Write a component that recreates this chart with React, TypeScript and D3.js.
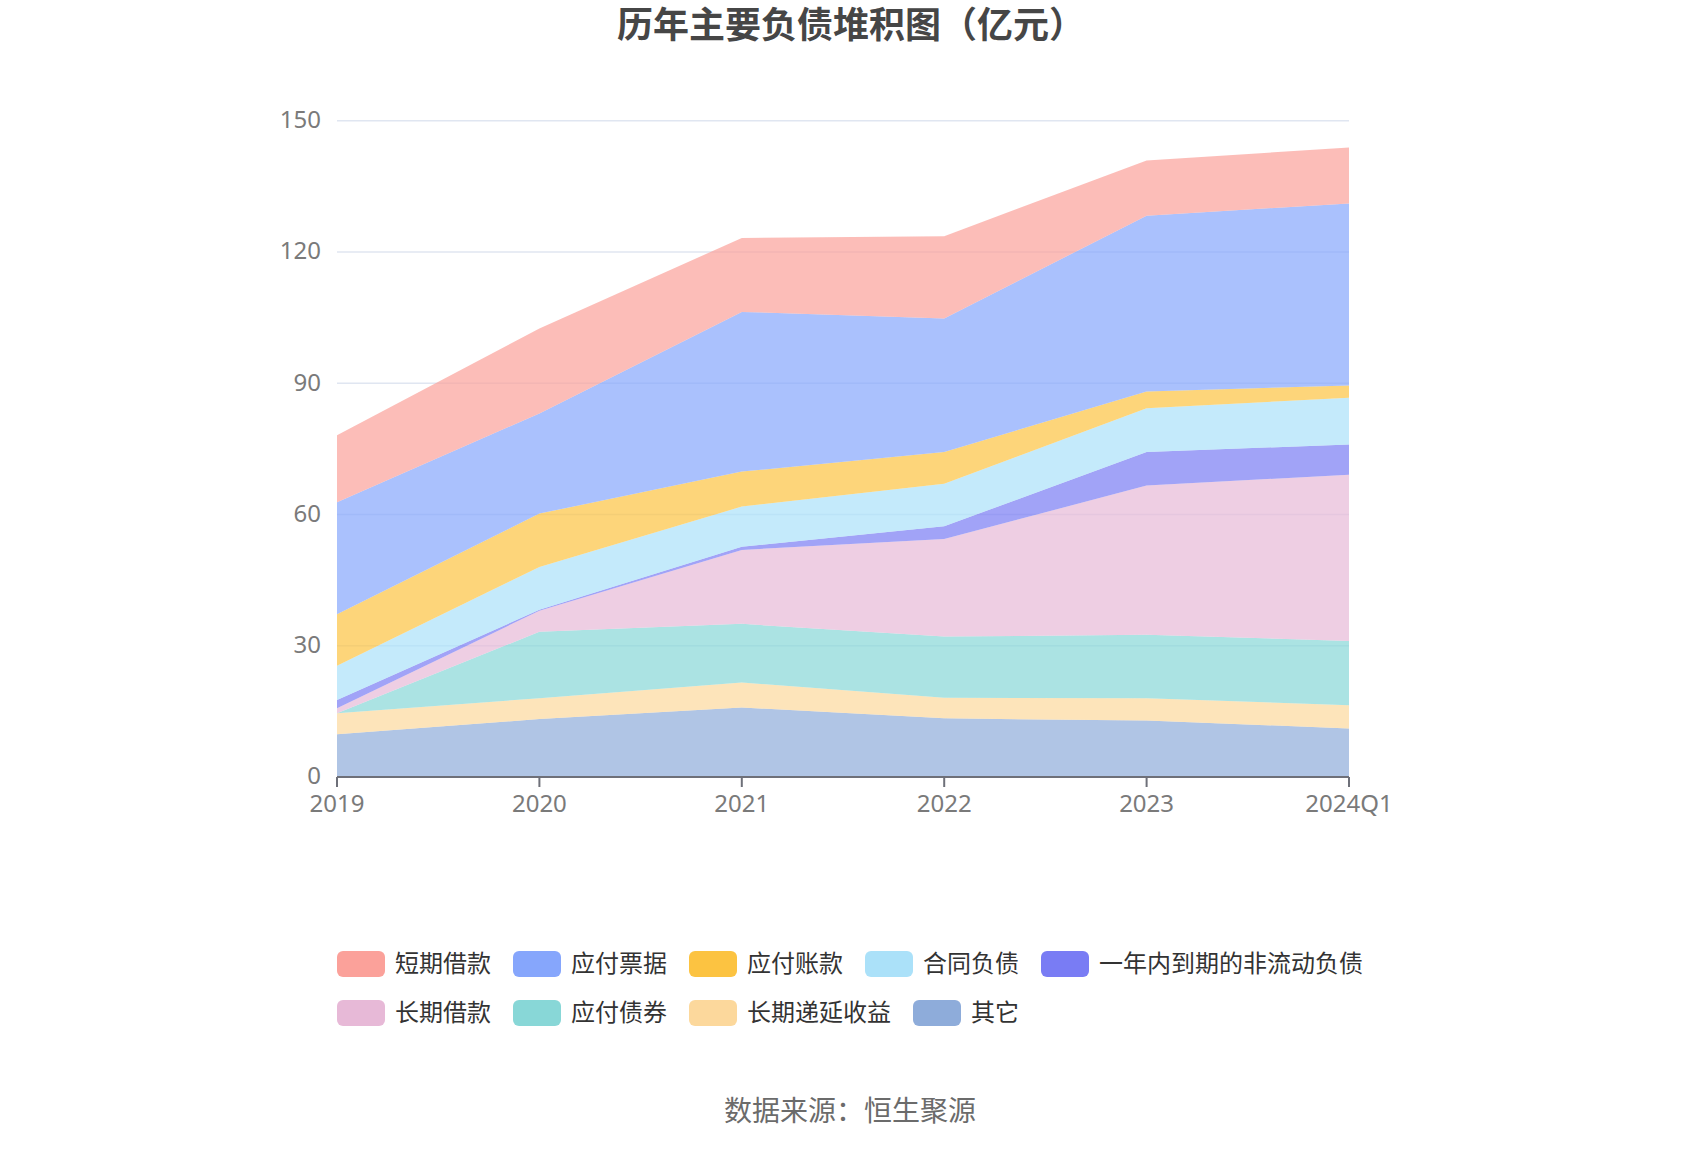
import React from "react";
import * as d3 from "d3";

const categories = ["2019", "2020", "2021", "2022", "2023", "2024Q1"];
const seriesNames = [
  "短期借款",
  "应付票据",
  "应付账款",
  "合同负债",
  "一年内到期的非流动负债",
  "长期借款",
  "应付债券",
  "长期递延收益",
  "其它",
];
const seriesColors = [
  "#FBA19A",
  "#86A6FC",
  "#FCC341",
  "#ABE1F9",
  "#797CF4",
  "#E7B9D7",
  "#88D7D7",
  "#FCD89C",
  "#8EACDA",
];
// values in 亿元, one array per series (legend order)
const shortLoans = [15.3, 19.4, 16.9, 18.8, 12.6, 12.8];
const notesPayable = [25.6, 22.9, 36.5, 30.5, 40.2, 41.6];
const accountsPayable = [11.8, 12.2, 8.0, 7.3, 3.8, 2.8];
const contractLiab = [7.8, 9.8, 9.2, 9.7, 10.0, 10.7];
const currentNonCurrent = [1.9, 0.2, 0.7, 2.9, 7.7, 6.9];
const longLoans = [1.15, 4.8, 16.9, 22.3, 34.1, 38.0];
const bondsPayable = [0.0, 15.2, 13.4, 14.0, 14.5, 14.7];
const deferredIncome = [4.8, 4.75, 5.7, 4.7, 5.1, 5.3];
const others = [9.75, 13.25, 15.9, 13.4, 12.9, 11.1];
const seriesValues = [
  shortLoans,
  notesPayable,
  accountsPayable,
  contractLiab,
  currentNonCurrent,
  longLoans,
  bondsPayable,
  deferredIncome,
  others,
];
const yTicks = [0, 30, 60, 90, 120, 150];

const W = 1700;
const H = 1150;
const FONT = "'Noto Sans', 'Noto Sans CJK SC', sans-serif";

export default function App() {
  const x = d3.scalePoint<string>().domain(categories).range([337, 1349]);
  const y = d3.scaleLinear().domain([0, 150]).range([777, 120.7]);

  const rows = categories.map((c, i) => {
    const r: any = { cat: c };
    seriesNames.forEach((n, k) => (r[n] = seriesValues[k][i]));
    return r;
  });
  // stack bottom-up: reverse of legend order
  const stackKeys = [...seriesNames].reverse();
  const stacked = d3.stack<any>().keys(stackKeys)(rows);
  const area = d3
    .area<any>()
    .x((d) => x(d.data.cat) as number)
    .y0((d) => y(d[0]))
    .y1((d) => y(d[1]));

  // legend layout
  const legendRows = [seriesNames.slice(0, 5), seriesNames.slice(5)];
  const legendY = [964, 1013];
  const fs = 24;
  const axisText = "#7a7a7a";

  return (
    <svg
      width={W}
      height={H}
      style={{ position: "absolute", left: 0, top: 0, background: "#fff" }}
      fontFamily={FONT}
    >
      <rect x={0} y={0} width={W} height={H} fill="#fff" />
      <text
        x={851}
        y={38}
        textAnchor="middle"
        fontSize={36}
        fontWeight="bold"
        fill="#464646"
      >
        历年主要负债堆积图（亿元）
      </text>

      {yTicks.map((t) =>
        t === 0 ? null : (
          <line
            key={"g" + t}
            x1={337}
            x2={1349}
            y1={y(t)}
            y2={y(t)}
            stroke="#E0E6F1"
            strokeWidth={1.5}
          />
        )
      )}

      {stacked.map((s) => {
        const idx = seriesNames.indexOf(s.key);
        return (
          <path
            key={s.key}
            d={area(s) || ""}
            fill={seriesColors[idx]}
            fillOpacity={0.7}
          />
        );
      })}

      <line x1={337} x2={1349} y1={777} y2={777} stroke="#6E7079" strokeWidth={2} />
      {categories.map((c) => (
        <g key={c}>
          <line
            x1={x(c)}
            x2={x(c)}
            y1={777}
            y2={787}
            stroke="#6E7079"
            strokeWidth={2}
          />
          <text
            x={x(c)}
            y={812}
            textAnchor="middle"
            fontSize={fs}
            fill={axisText}
          >
            {c}
          </text>
        </g>
      ))}
      {yTicks.map((t) => (
        <text
          key={"yl" + t}
          x={321}
          y={y(t) - 1}
          dy="0.35em"
          textAnchor="end"
          fontSize={fs}
          fill={axisText}
        >
          {t}
        </text>
      ))}

      {legendRows.map((row, ri) => {
        let cx = 337;
        return row.map((name) => {
          const idx = seriesNames.indexOf(name);
          const gx = cx;
          cx += 48 + 10 + name.length * fs + 22;
          return (
            <g key={name}>
              <rect
                x={gx}
                y={legendY[ri] - 13}
                width={48}
                height={26}
                rx={6}
                fill={seriesColors[idx]}
              />
              <text
                x={gx + 58}
                y={legendY[ri]}
                dy="0.35em"
                fontSize={fs}
                fill="#333"
              >
                {name}
              </text>
            </g>
          );
        });
      })}

      <text x={850} y={1111} dy="0.35em" textAnchor="middle" fontSize={28} fill="#6b6b6b">
        数据来源：恒生聚源
      </text>
    </svg>
  );
}
